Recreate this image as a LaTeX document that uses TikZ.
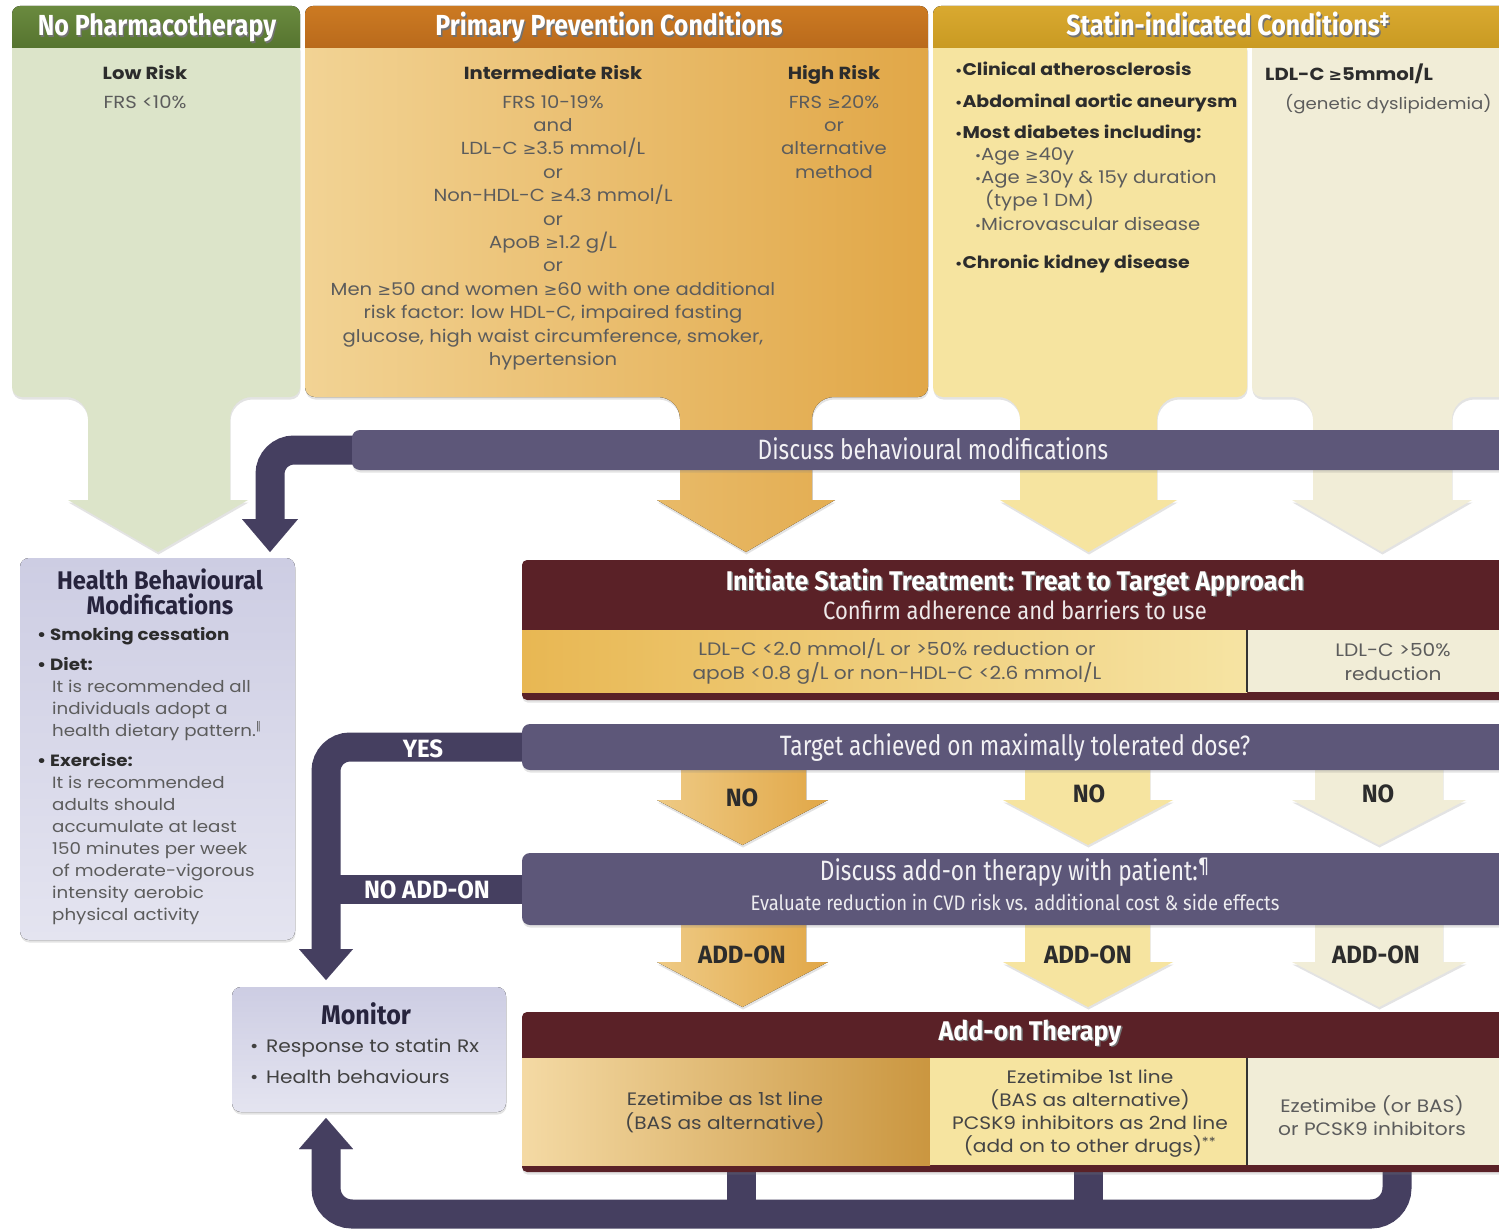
\documentclass[tikz,border=0pt]{standalone}
\usepackage{fontspec}
\setmainfont{Poppins}[FakeStretch=1.12]
\newfontfamily\condH[FakeStretch=0.86]{Fira Sans}
\newfontfamily\condB[FakeStretch=0.93]{Fira Sans}
\newfontfamily\condL[FakeStretch=0.96]{Fira Sans}
\newfontfamily\condR[FakeStretch=0.81]{Fira Sans}
\newfontfamily\condS[FakeStretch=0.88]{Fira Sans}
\newfontfamily\symf[Scale=0.92]{DejaVu Sans}
\usetikzlibrary{arrows.meta,shadows}
\definecolor{hdgreenT}{HTML}{6A8A3F}
\definecolor{hdgreenB}{HTML}{56742F}
\definecolor{pgreen}{HTML}{DCE4C9}
\definecolor{hdorT}{HTML}{CC7A22}
\definecolor{hdorB}{HTML}{B96A1C}
\definecolor{porL}{HTML}{F2D394}
\definecolor{porR}{HTML}{E1A747}
\definecolor{hdgoT}{HTML}{D9A930}
\definecolor{hdgoB}{HTML}{C99A22}
\definecolor{pgold}{HTML}{F6E4A0}
\definecolor{pcream}{HTML}{F1EDD7}
\definecolor{purp}{HTML}{5D5779}
\definecolor{purpdk}{HTML}{453F60}
\definecolor{maroon}{HTML}{5A2127}
\definecolor{lavT}{HTML}{CDCDE3}
\definecolor{lavB}{HTML}{E4E4F0}
\definecolor{txtgrey}{HTML}{5C5C5C}
\definecolor{txtdark}{HTML}{2C2C2C}
\definecolor{hbmtitle}{HTML}{27243D}
\definecolor{bandL}{HTML}{E8B753}
\definecolor{bandR}{HTML}{F6E4A3}
\newcommand\GE{{\symf ≥}}
\newcommand\bt[1]{\textcolor{txtdark}{\bfseries #1}}
\newcommand\sbul{{\fontsize{13}{13}\selectfont•}}
\newcommand\gbt[1]{\textcolor{txtdark}{\bfseries\fontsize{16.9}{23}\selectfont\sbul#1}}
\newcommand\sht[1]{\leavevmode\rlap{\kern1.4pt\raisebox{-1.4pt}{\textcolor{black!55}{#1}}}#1}
% panel with funnel arrow: x1 x2 pb sl sr hb hl hr ty
\newcommand\funnel[9]{(#1,48) -- (#2,48) -- (#2,{#3-10}) arc[start angle=0,end angle=-90,radius=10pt] -- ({#5+22},#3) arc[start angle=90,end angle=180,radius=22pt] -- (#5,#6) -- (#8,#6) -- ({(#7+#8)/2},#9) -- (#7,#6) -- (#4,#6) -- (#4,{#3+22}) arc[start angle=0,end angle=90,radius=22pt] -- ({#1+10},#3) arc[start angle=270,end angle=180,radius=10pt] -- cycle}
% down arrow: sl sr ytop hb hl hr ty
\newcommand\dnarrow[7]{(#1,#3) -- (#2,#3) -- (#2,#4) -- (#6,#4) -- ({(#5+#6)/2},#7) -- (#5,#4) -- (#1,#4) -- cycle}
\begin{document}
\begin{tikzpicture}[x=1pt,y=-1pt,
 box/.style={inner sep=0pt,outer sep=0pt,anchor=north west},
 lbl/.style={inner sep=0pt,anchor=base},
 blk/.style={inner sep=0pt,anchor=north,align=center},
 blkl/.style={inner sep=0pt,anchor=north west,align=left},
 hd/.style={lbl,text=white,font=\condH\bfseries\fontsize{29}{30}\selectfont},
 bartxt/.style={lbl,text=white!92!purp,font=\condR\fontsize{28}{30}\selectfont},
 body/.style={blk,text=txtgrey,font=\fontsize{17.5}{23.4}\selectfont},
 bodyl/.style={blkl,text=txtgrey,font=\fontsize{17.5}{23}\selectfont},
 cell/.style={blk,text=txtgrey,font=\fontsize{18}{24}\selectfont},
 darkl/.style={lbl,text=txtdark,font=\condL\bfseries\fontsize{25}{26}\selectfont},
 whitel/.style={lbl,text=white,font=\condL\bfseries\fontsize{25}{26}\selectfont},
 elbow/.style={draw=purpdk,line width=29pt,rounded corners=24pt},
 tipA/.style={-{Triangle[width=56pt,length=33pt,line width=0.01pt]}},
 tipB/.style={-{Triangle[width=54pt,length=31pt,line width=0.01pt]}},
 shd/.style={drop shadow={opacity=0.22,shadow xshift=0.5pt,shadow yshift=-2.5pt}},
]
\useasboundingbox (0,0) rectangle (1499,1231);
\fill[white] (0,0) rectangle (1499,1231);

% ---------- top panels with funnel arrows
\fill[pgreen,shd] \funnel{12}{300}{397}{88}{230}{500}{68}{248}{552};
\fill[left color=porL,right color=porR,shd] \funnel{305}{928}{397}{680}{812}{500}{657}{835}{552};
\fill[pgold,shd] \funnel{933}{1247}{397}{1020}{1157}{500}{1000}{1177}{552};
\fill[pcream,shd] \funnel{1252}{1560}{397}{1313}{1452}{500}{1292}{1472}{552};

% ---------- headers
\fill[top color=hdgreenT,bottom color=hdgreenB,rounded corners=8pt] (12,48) -- (12,6) -- (300,6) -- (300,48);
\fill[top color=hdorT,bottom color=hdorB,rounded corners=8pt] (305,48) -- (305,6) -- (928,6) -- (928,48);
\fill[top color=hdgoT,bottom color=hdgoB,rounded corners=8pt] (933,48) -- (933,6) -- (1560,6) -- (1560,48);
\node[hd] (h1) at (157,36) {\sht{No Pharmacotherapy}};
\node[hd] (h2) at (609,36) {\sht{Primary Prevention Conditions}};
\node[hd] (h3) at (1228,36) {\sht{Statin-indicated Conditions\textsuperscript{‡}}};

% ---------- panel texts
\node[body] (t1) at (145,65) {\bt{Low Risk}\\[5.5pt]FRS <10\%};
\node[body] (t2) at (553,65) {\bt{Intermediate Risk}\\[5.5pt]FRS 10-19\%\\and\\LDL-C \GE3.5 mmol/L\\or\\Non-HDL-C \GE4.3 mmol/L\\or\\ApoB \GE1.2 g/L\\or\\Men \GE50 and women \GE60 with one additional\\risk factor: low HDL-C, impaired fasting\\glucose, high waist circumference, smoker,\\hypertension};
\node[body] (t3) at (834,65) {\bt{High Risk}\\[5.5pt]FRS \GE20\%\\or\\alternative\\method};
\node[bodyl] (t4) at (955,62) {\gbt{Clinical atherosclerosis}\\[8.6pt]
\gbt{Abdominal aortic aneurysm}\\[8pt]
\gbt{Most diabetes including:}\\[-1pt]
\hspace*{20pt}\sbul Age \GE40y\\
\hspace*{20pt}\sbul Age \GE30y \& 15y duration\\
\hspace*{30pt}(type 1 DM)\\[1pt]
\hspace*{20pt}\sbul Microvascular disease\\[15pt]
\gbt{Chronic kidney disease}};
\node[bodyl,font=\fontsize{16.2}{23}\selectfont] (t5) at (1265,64) {\bt{\fontsize{17.5}{23}\selectfont LDL-C \GE5mmol/L}\\[6pt]\hspace*{20pt}(genetic dyslipidemia)};

% ---------- named points for connectors
\coordinate (ex) at (270,0);
\coordinate (vx) at (326,0);
\coordinate (lb) at (326,1214);

% boxes as nodes
\node[box,minimum width=275pt,minimum height=382pt] (hbm) at (20,558) {};
\node[box,minimum width=274pt,minimum height=125pt] (monitor) at (232,987) {};
\node[box,minimum width=1170pt,minimum height=40pt] (discuss) at (352,430) {};
\node[box,minimum width=1000pt,minimum height=140pt] (init) at (522,560) {};
\node[box,minimum width=1000pt,minimum height=46pt] (target) at (522,724) {};
\node[box,minimum width=1000pt,minimum height=72pt] (addbar) at (522,853) {};
\node[box,minimum width=1000pt,minimum height=160pt] (addon) at (522,1012) {};

\draw[elbow,tipA,shorten >=6pt] ([xshift=15pt]discuss.west) -| (ex |- hbm.north);
\draw[elbow,tipB,shorten >=7pt] ([xshift=15pt]target.west) -| (vx |- monitor.north);
\draw[elbow] ([xshift=15pt]addbar.west) -- (vx |- addbar.west);
\coordinate (b1) at ([xshift=875pt,yshift=10pt]addon.south west);
\coordinate (b2) at ([xshift=219pt,yshift=10pt]addon.south west);
\coordinate (b3) at ([xshift=566pt,yshift=10pt]addon.south west);
\draw[elbow,tipB,rounded corners=26pt,shorten >=6pt] (b1) |- (lb) -- (vx |- monitor.south);
\draw[elbow] (b2) -- (b2 |- lb);
\draw[elbow] (b3) -- (b3 |- lb);

% ---------- purple bar
\fill[purp,rounded corners=8pt,shd] (discuss.north west) rectangle (discuss.south east);
\node[bartxt] (d1) at (933,459) {Discuss behavioural modifications};

% ---------- health behavioural box
\fill[top color=lavT,bottom color=lavB,rounded corners=9pt,shd] (hbm.north west) rectangle (hbm.south east);
\node[blk,text=hbmtitle,font=\condB\bfseries\fontsize{25.5}{25}\selectfont] (hb1) at (160,569) {Health Behavioural\\Modifications};
\node[blkl,text=txtgrey,font=\fontsize{16.3}{22}\selectfont] (hb2) at (37,627) {\bt{\makebox[13pt][l]{•}Smoking cessation}\\[8pt]
\bt{\makebox[13pt][l]{•}Diet:}\\
\hspace*{15pt}It is recommended all\\
\hspace*{15pt}individuals adopt a\\
\hspace*{15pt}health dietary pattern.\textsuperscript{\symf ‖}\\[8pt]
\bt{\makebox[13pt][l]{•}Exercise:}\\
\hspace*{15pt}It is recommended\\
\hspace*{15pt}adults should\\
\hspace*{15pt}accumulate at least\\
\hspace*{15pt}150 minutes per week\\
\hspace*{15pt}of moderate-vigorous\\
\hspace*{15pt}intensity aerobic\\
\hspace*{15pt}physical activity};

% ---------- initiate statin box
\fill[maroon,rounded corners=5pt,shd] (init.north west) rectangle (init.south east);
\fill[left color=bandL,right color=bandR] (522,630) rectangle (1247,692);
\fill[pcream] (1247,630) rectangle (1530,692);
\draw[black!80,line width=1.5pt] (1247,630) -- (1247,692);
\node[lbl,text=white,font=\condB\bfseries\fontsize{27}{28}\selectfont] (i1) at (1015,590.5) {\sht{Initiate Statin Treatment: Treat to Target Approach}};
\node[lbl,text=white!90!maroon,font=\condS\fontsize{25}{26}\selectfont] (i2) at (1015,619) {Confirm adherence and barriers to use};
\node[cell] (i3) at (897,638) {LDL-C <2.0 mmol/L or >50\% reduction or\\apoB <0.8 g/L or non-HDL-C <2.6 mmol/L};
\node[cell] (i4) at (1393,643) {LDL-C >50\%\\reduction};

% ---------- NO arrows
\fill[left color=porL!80!porR,right color=porR,shd] \dnarrow{681}{806}{765}{800}{657}{828}{845};
\fill[pgold,shd] \dnarrow{1025}{1150}{765}{800}{1003}{1173}{845};
\fill[pcream,shd] \dnarrow{1315}{1443}{765}{800}{1292}{1466}{845};
\node[darkl] (n1) at (742,806) {NO};
\node[darkl] (n2) at (1089,802) {NO};
\node[darkl] (n3) at (1378,802) {NO};

% ---------- ADD-ON arrows
\fill[left color=porL!80!porR,right color=porR,shd] \dnarrow{681}{806}{920}{962}{657}{828}{1007};
\fill[pgold,shd] \dnarrow{1025}{1150}{920}{962}{1003}{1173}{1007};
\fill[pcream,shd] \dnarrow{1315}{1443}{920}{962}{1292}{1466}{1007};
\node[darkl] (a1) at (742,963) {ADD-ON};
\node[darkl] (a2) at (1088,963) {ADD-ON};
\node[darkl] (a3) at (1376,963) {ADD-ON};

% ---------- target & add-on bars
\fill[purp,rounded corners=8pt,shd] (target.north west) rectangle (target.south east);
\node[bartxt] (q1) at (1015,755) {Target achieved on maximally tolerated dose?};
\fill[purp,rounded corners=8pt,shd] (addbar.north west) rectangle (addbar.south east);
\node[bartxt] (q2) at (1015,880.5) {Discuss add-on therapy with patient:\textsuperscript{¶}};
\node[lbl,text=white!88!purp,font=\condS\fontsize{21}{22}\selectfont] (q3) at (1015,910.5) {Evaluate reduction in CVD risk vs. additional cost \& side effects};
\node[whitel] (y1) at (423,757) {YES};
\node[whitel] (y2) at (427,898) {NO ADD-ON};

% ---------- add-on therapy box
\fill[maroon,rounded corners=5pt,shd] (addon.north west) rectangle (addon.south east);
\fill[left color=porL!85!white,right color=porR!90!black] (522,1058) rectangle (930,1165);
\fill[pgold] (930,1058) rectangle (1247,1165);
\fill[pcream] (1247,1058) rectangle (1530,1165);
\draw[black!80,line width=1.5pt] (1247,1058) -- (1247,1165);
\node[lbl,text=white,font=\condB\bfseries\fontsize{27}{28}\selectfont] (o1) at (1030,1040.5) {\sht{Add-on Therapy}};
\node[cell,text=txtdark!88] (o2) at (725,1092) {Ezetimibe as 1st line\\(BAS as alternative)};
\node[cell,text=txtdark!88,font=\fontsize{18}{23}\selectfont] (o3) at (1090,1070) {Ezetimibe 1st line\\(BAS as alternative)\\PCSK9 inhibitors as 2nd line\\(add on to other drugs)\textsuperscript{**}};
\node[cell,font=\fontsize{18}{23}\selectfont] (o4) at (1372,1095) {Ezetimibe (or BAS)\\or PCSK9 inhibitors};

% ---------- monitor box
\fill[top color=lavT,bottom color=lavB,rounded corners=9pt,shd] (monitor.north west) rectangle (monitor.south east);
\node[lbl,text=hbmtitle,font=\condB\bfseries\fontsize{27}{28}\selectfont] (m1) at (366,1024.5) {Monitor};
\node[blkl,text=txtdark!90,font=\fontsize{18}{31}\selectfont] (m2) at (250,1039) {\makebox[16pt][l]{•}Response to statin Rx\\\makebox[16pt][l]{•}Health behaviours};
\end{tikzpicture}
\end{document}
